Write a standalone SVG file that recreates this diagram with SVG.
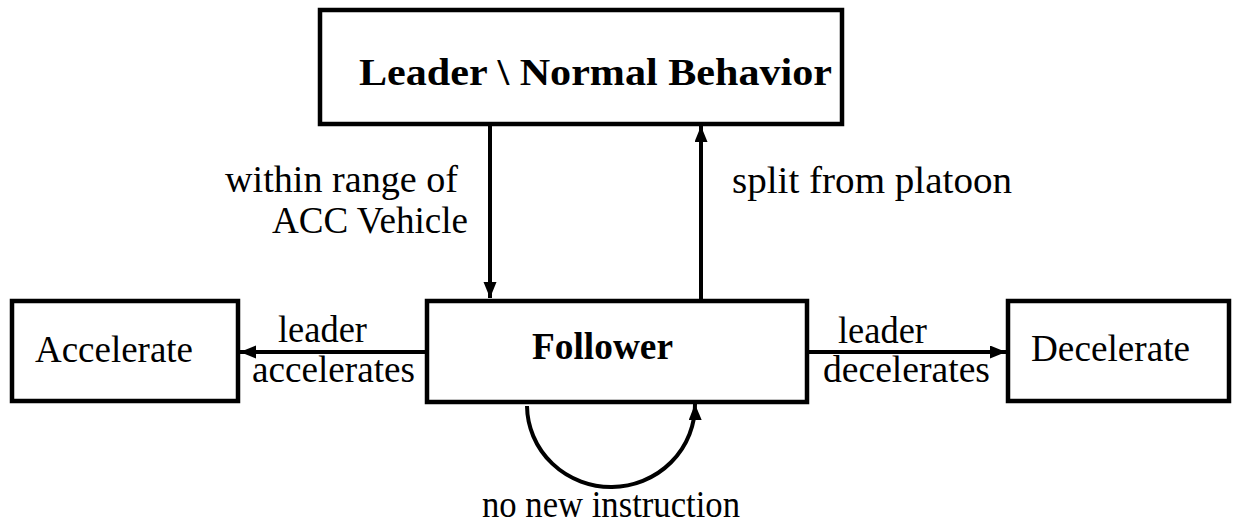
<svg xmlns="http://www.w3.org/2000/svg" width="1233" height="525" viewBox="0 0 1233 525">
<defs>
<style>
.box{fill:#fff;stroke:#000;stroke-width:4.5}
.t{font-family:"Liberation Serif","DejaVu Serif",serif;font-size:37px;fill:#000}
.b{font-weight:bold}
.c{fill:none;stroke:#000;stroke-width:4}
</style>
<marker id="ah" markerUnits="userSpaceOnUse" markerWidth="18" markerHeight="14" refX="16" refY="6.5" orient="auto" viewBox="0 0 18 14">
<path d="M0,0 L16,6.5 L0,13 z" fill="#000"/>
</marker>
</defs>
<rect width="1233" height="525" fill="#fff"/>
<g id="connectors">
<line class="c" x1="490" y1="124" x2="490" y2="298" marker-end="url(#ah)"/>
<line class="c" x1="701" y1="301" x2="701" y2="126" marker-end="url(#ah)"/>
<line class="c" x1="427" y1="352" x2="240" y2="352" marker-end="url(#ah)"/>
<line class="c" x1="807" y1="352" x2="1006" y2="352" marker-end="url(#ah)"/>
<path class="c" d="M527,406 A84,82 0 0 0 695,404" marker-end="url(#ah)"/>
<text class="t" x="225" y="192" textLength="233" lengthAdjust="spacingAndGlyphs">within range of</text>
<text class="t" x="272" y="233" textLength="196" lengthAdjust="spacingAndGlyphs">ACC Vehicle</text>
<text class="t" x="732" y="193" textLength="280" lengthAdjust="spacingAndGlyphs">split from platoon</text>
<text class="t" x="278" y="342" textLength="89" lengthAdjust="spacingAndGlyphs">leader</text>
<text class="t" x="252" y="382" textLength="163" lengthAdjust="spacingAndGlyphs">accelerates</text>
<text class="t" x="838" y="343" textLength="89" lengthAdjust="spacingAndGlyphs">leader</text>
<text class="t" x="823" y="382" textLength="167" lengthAdjust="spacingAndGlyphs">decelerates</text>
<text class="t" x="482" y="517" textLength="258" lengthAdjust="spacingAndGlyphs">no new instruction</text>
</g>
<g id="leader">
<rect class="box" x="320" y="10" width="522" height="114"/>
<text class="t b" x="359" y="85" textLength="473" lengthAdjust="spacingAndGlyphs">Leader \ Normal Behavior</text>
</g>
<g id="follower">
<rect class="box" x="427" y="301" width="380" height="101"/>
<text class="t b" x="532" y="359" textLength="141" lengthAdjust="spacingAndGlyphs">Follower</text>
</g>
<g id="accelerate">
<rect class="box" x="12" y="301" width="226" height="100"/>
<text class="t" x="35" y="362" textLength="158" lengthAdjust="spacingAndGlyphs">Accelerate</text>
</g>
<g id="decelerate">
<rect class="box" x="1008" y="301" width="221" height="100"/>
<text class="t" x="1031" y="361" textLength="159" lengthAdjust="spacingAndGlyphs">Decelerate</text>
</g>
</svg>
